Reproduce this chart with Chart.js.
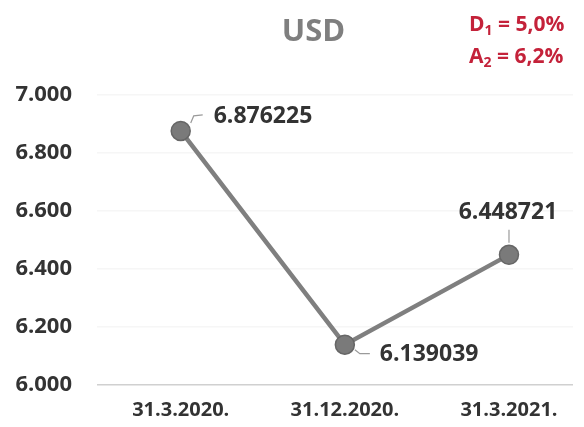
<!DOCTYPE html>
<html>
<head>
<meta charset="utf-8">
<script src="https://cdn.jsdelivr.net/npm/chart.js@4"></script>
<style>
  html, body { margin: 0; padding: 0; background: #fff; }
  #wrap { position: relative; width: 584px; height: 427px; }
  #title { position: absolute; left: 0; width: 627px; top: 8px; text-align: center;
           font: bold 31px "Open Sans", sans-serif; color: #7f7f7f; }
  .note { position: absolute; left: 469px; font: bold 21px "Open Sans", sans-serif; color: #c4223a; white-space: nowrap; }
  .note sub { font-size: 14px; vertical-align: -4px; }
</style>
</head>
<body>
<div id="wrap">
  <canvas id="c" width="584" height="427"></canvas>
  <div id="title">USD</div>
  <div class="note" style="top:9px">D<sub>1</sub> = 5,0%</div>
  <div class="note" style="top:41px">A<sub>2</sub> = 6,2%</div>
</div>
<script>
const categories = ["31.3.2020.", "31.12.2020.", "31.3.2021."];
const usdValues = [6.876225, 6.139039, 6.448721];
const valueLabels = ["6.876225", "6.139039", "6.448721"];

const labelPlugin = {
  id: 'pointLabels',
  afterDatasetsDraw(chart) {
    const ctx = chart.ctx;
    const meta = chart.getDatasetMeta(0);
    const specs = [
      { tx: 33, ty: -14, align: 'left', leader: [[10, -8], [13, -15], [22, -16]] },
      { tx: 35, ty: 10, align: 'left', leader: [[10, 5], [15, 9], [25, 9]] },
      { tx: -1, ty: -42, align: 'center', leader: [[0, -12], [0, -25]] }
    ];
    ctx.save();
    meta.data.forEach((pt, i) => {
      const s = specs[i];
      ctx.strokeStyle = '#9a9a9a';
      ctx.lineWidth = 1.2;
      ctx.beginPath();
      s.leader.forEach((p, k) => {
        if (k === 0) ctx.moveTo(pt.x + p[0], pt.y + p[1]);
        else ctx.lineTo(pt.x + p[0], pt.y + p[1]);
      });
      ctx.stroke();
      ctx.fillStyle = '#333333';
      ctx.font = 'bold 23px "Open Sans", sans-serif';
      ctx.textAlign = s.align;
      ctx.textBaseline = 'middle';
      ctx.fillText(valueLabels[i], pt.x + s.tx, pt.y + s.ty);
    });
    ctx.restore();
  }
};

new Chart(document.getElementById('c'), {
  type: 'line',
  data: {
    datasets: [{
      data: usdValues.map((v, i) => ({ x: i, y: v })),
      borderColor: '#7f7f7f',
      borderWidth: 4.5,
      pointRadius: 9.5,
      pointHoverRadius: 9.5,
      pointBackgroundColor: '#7a7a7a',
      pointBorderColor: '#666666',
      pointBorderWidth: 1.5,
      tension: 0
    }]
  },
  options: {
    responsive: false,
    animation: false,
    layout: { padding: { left: 0, right: 0, top: 95, bottom: 0 } },
    plugins: { legend: { display: false }, tooltip: { enabled: false } },
    scales: {
      x: {
        type: 'linear',
        min: -0.51,
        max: 2.39,
        afterFit(s) { s.height = 42; },
        afterBuildTicks(s) { s.ticks = categories.map((c, i) => ({ value: i })); },
        ticks: {
          callback: (v) => categories[v],
          color: '#333333',
          font: { family: 'Open Sans', weight: 'bold', size: 20 },
          padding: 13,
          maxRotation: 0,
          autoSkip: false
        },
        grid: { display: false, drawTicks: false },
        border: { display: false }
      },
      y: {
        min: 6.0,
        max: 7.0,
        afterFit(s) { s.width = 97; },
        ticks: {
          stepSize: 0.2,
          padding: 25,
          color: '#333333',
          font: { family: 'Open Sans', weight: 'bold', size: 22 },
          callback: (v) => v.toFixed(3)
        },
        grid: {
          drawTicks: false,
          color: (c) => c.tick && Math.abs(c.tick.value - 6.0) < 1e-9 ? '#d0d0d0' : '#f6f6f6',
          lineWidth: 1.5
        },
        border: { display: false }
      }
    }
  },
  plugins: [labelPlugin]
});
</script>
</body>
</html>
